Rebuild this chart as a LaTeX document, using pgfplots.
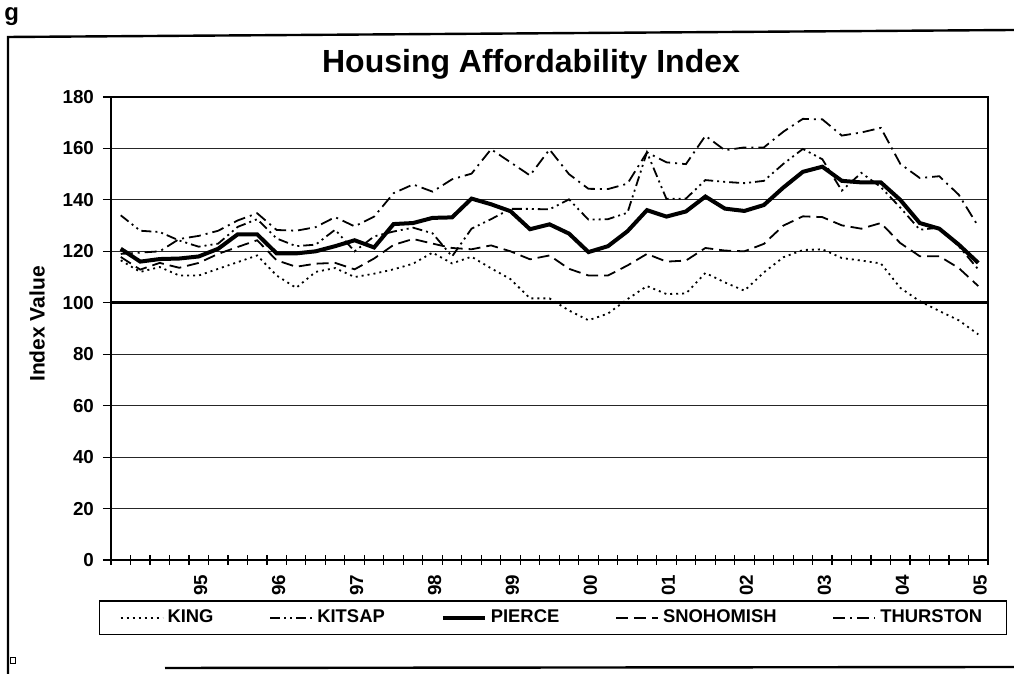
\documentclass[border=0pt]{standalone}
\usepackage{pgfplots}
\usepackage{pgfplotstable}
\pgfplotsset{compat=1.18}
\usepackage{fontspec}
\setmainfont{Liberation Sans}

\pgfplotstableread{
i king kitsap pierce snoh thurs
0 116.5 134.0 121.0 117.8 119.0
1 112.0 128.0 116.0 112.9 119.5
2 113.9 127.5 117.0 115.5 120.0
3 110.6 124.2 117.2 113.6 124.8
4 110.6 121.8 118.0 115.5 126.0
5 113.2 123.0 121.0 119.0 128.0
6 115.8 129.5 126.6 121.7 132.0
7 118.4 132.5 126.6 124.3 134.8
8 110.6 125.0 119.2 116.5 128.3
9 105.8 122.0 119.2 114.0 128.0
10 112.0 122.6 120.0 115.2 129.4
11 113.5 128.4 122.0 115.5 133.3
12 110.0 120.0 124.3 113.0 129.7
13 111.3 125.8 121.5 117.2 133.5
14 113.0 127.7 130.6 122.5 142.6
15 115.2 129.2 131.0 124.8 146.0
16 119.5 127.0 133.0 123.0 143.2
17 115.3 118.0 133.2 121.3 148.0
18 117.9 128.8 140.5 120.8 150.2
19 113.4 132.5 138.3 122.3 159.7
20 109.2 136.5 135.6 120.0 154.6
21 101.7 136.5 128.6 116.9 149.5
22 101.7 136.3 130.5 118.4 159.6
23 97.0 140.2 126.9 113.2 150.0
24 93.2 132.3 119.7 110.6 144.3
25 95.8 132.5 122.0 110.6 144.2
26 101.4 135.0 127.8 114.5 146.3
27 106.5 158.5 136.0 119.0 158.5
28 103.4 140.4 133.5 116.0 154.6
29 103.6 140.5 135.5 116.4 153.9
30 111.6 147.7 141.3 121.3 164.9
31 107.9 147.0 136.6 120.3 159.3
32 104.7 146.5 135.7 120.0 160.4
33 111.8 147.4 138.0 122.9 160.4
34 117.7 154.0 144.8 130.0 166.5
35 120.5 159.8 150.9 133.6 171.5
36 120.8 155.8 152.9 133.3 171.3
37 117.4 143.6 147.4 130.1 165.0
38 116.4 150.5 146.8 128.8 166.2
39 115.3 145.0 146.8 131.0 168.0
40 105.8 137.0 140.0 123.2 154.0
41 100.6 128.4 131.0 118.1 148.5
42 96.8 129.2 128.8 118.1 149.2
43 93.2 122.0 122.6 113.5 142.0
44 87.7 113.0 115.5 106.5 129.7
}\data

\begin{document}
\begin{tikzpicture}[x=1pt,y=1pt]
\useasboundingbox (0,0) rectangle (507,337);
% outer frame
\draw[line width=1.2pt] (4,0) -- (4,318.5) -- (507,322);
\draw[line width=1.2pt] (82.5,3) -- (507,3.5);
\draw[line width=0.4pt] (5,5.5) rectangle (7.8,8.3);
\node[font=\bfseries\fontsize{12}{12}\selectfont, anchor=north west, inner sep=0pt] at (2,333.5) {g};
% title
\node[font=\bfseries\fontsize{16}{19}\selectfont] at (265.5,305) {Housing Affordability Index};
\node[rotate=90, font=\bfseries\fontsize{10.5}{12}\selectfont] at (18.5,175) {Index Value};
\begin{axis}[
  at={(55.5pt,57pt)}, anchor=south west,
  scale only axis, width=438.5pt, height=231.5pt,
  xmin=-0.5, xmax=44.5, ymin=0, ymax=180,
  ytick={0,20,...,180},
  ymajorgrids, grid style={black!85, line width=0.5pt},
  axis line style={black, line width=0.6pt},
  xtick={4,8,...,44},
  xticklabels={95,96,97,98,99,00,01,02,03,04,05},
  minor xtick={-0.5,0.5,...,44.5},
  tick pos=left, tick align=outside,
  major tick length=4pt, minor tick length=5pt,
  major x tick style={draw=none},
  minor x tick style={black, line width=0.6pt, yshift=2.5pt},
  y tick style={black, line width=0.6pt},
  /pgf/number format/assume math mode=true,
  ticklabel style={font=\bfseries\fontsize{9.4}{11}\selectfont},
  xticklabel style={rotate=90, anchor=east, yshift=-1pt},
  yticklabel style={xshift=-1pt},
  legend columns=5,
  legend style={at={(0.504,-0.125)}, anchor=center, draw=black, line width=0.6pt,
    font=\bfseries\fontsize{9.2}{11}\selectfont, inner xsep=10pt, inner ysep=2.5pt,
    /tikz/every even column/.append style={column sep=26pt}},
  legend image code/.code={\draw[#1] (0pt,0pt) -- (21pt,0pt);},
]
\addplot[black, line width=1.3pt, forget plot] coordinates {(-0.5,100) (44.5,100)};
\addplot[black, line width=0.9pt, dash pattern=on 1pt off 2pt] table[x=i,y=king] {\data};
\addlegendentry{KING}
\addplot[black, line width=0.9pt, dash pattern=on 5pt off 2pt on 1pt off 2pt on 1pt off 2pt] table[x=i,y=kitsap] {\data};
\addlegendentry{KITSAP}
\addplot[black, line width=2pt] table[x=i,y=pierce] {\data};
\addlegendentry{PIERCE}
\addplot[black, line width=0.9pt, dash pattern=on 6pt off 3pt] table[x=i,y=snoh] {\data};
\addlegendentry{SNOHOMISH}
\addplot[black, line width=0.9pt, dash pattern=on 6pt off 2.5pt on 1pt off 2.5pt] table[x=i,y=thurs] {\data};
\addlegendentry{THURSTON}
\end{axis}
\end{tikzpicture}
\end{document}
